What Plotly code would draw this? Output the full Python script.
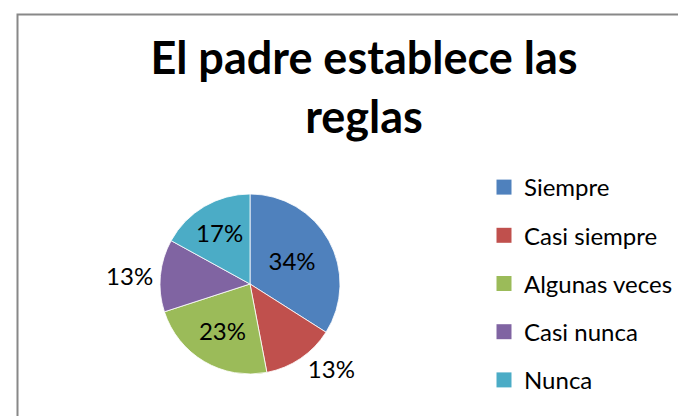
import plotly.graph_objects as go

categories = ["Siempre", "Casi siempre", "Algunas veces", "Casi nunca", "Nunca"]
values = [34, 13, 23, 13, 17]
colors = ["#4F81BD", "#C0504D", "#9BBB59", "#8064A2", "#4BACC6"]
label_positions = ["inside", "outside", "inside", "outside", "inside"]
title_text = "El padre establece las<br>reglas"

W, H = 686, 416
FONT = "Lato"

fig = go.Figure()
fig.add_trace(go.Pie(
    labels=categories, values=values, sort=False, direction="clockwise", rotation=0,
    marker=dict(colors=colors, line=dict(color="white", width=0.8)),
    texttemplate="%{percent:.0%}", textposition=label_positions,
    insidetextorientation="horizontal",
    textfont=dict(family=FONT, size=24, color="black"),
    showlegend=False, hoverinfo="label+percent",
    domain=dict(x=[152 / W, 332 / W], y=[1 - 366 / H, 1 - 186 / H]),
))
for c, col in zip(categories, colors):
    fig.add_trace(go.Scatter(
        x=[None], y=[None], mode="markers", name=c, legendgroup=c,
        marker=dict(symbol="square", size=15, color=col),
    ))

fig.update_layout(
    width=W, height=H, margin=dict(l=0, r=0, t=0, b=0),
    paper_bgcolor="white", plot_bgcolor="white",
    title=dict(text=title_text, x=356 / W, xanchor="center", y=1 - 66 / H, yanchor="top",
               font=dict(family=FONT, size=45, color="black", weight="bold")),
    xaxis=dict(visible=False), yaxis=dict(visible=False),
    legend=dict(x=476 / W, xanchor="left", y=1 - 157 / H, yanchor="top",
                font=dict(family=FONT, size=24, color="black"),
                tracegroupgap=14, traceorder="grouped", itemsizing="trace",
                bgcolor="rgba(0,0,0,0)"),
    shapes=[dict(type="rect", xref="paper", yref="paper",
                 x0=9.5 / W, x1=1.2, y0=-0.2, y1=1 - 6.5 / H,
                 line=dict(color="#888888", width=2), fillcolor="rgba(0,0,0,0)")],
)
fig.write_html("out.html")
